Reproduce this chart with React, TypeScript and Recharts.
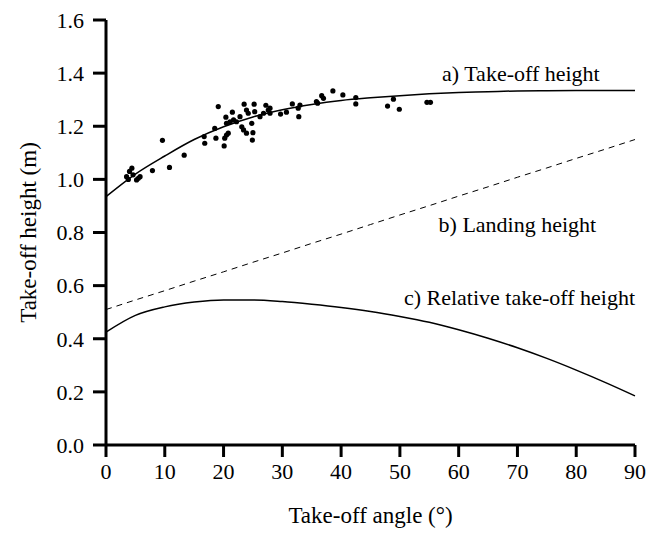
import {
  ComposedChart,
  Line,
  Scatter,
  XAxis,
  YAxis,
  ReferenceDot,
} from 'recharts'

// curve samples (take-off angle in degrees)
const angles = [0, 5, 10, 15, 20, 25, 30, 35, 40, 45, 50, 55, 60, 65, 70, 75, 80, 85, 90]
const takeOffHeight = [0.935, 1.02, 1.088, 1.15, 1.198, 1.235, 1.262, 1.282, 1.297, 1.307, 1.315, 1.322, 1.327, 1.33, 1.333, 1.334, 1.335, 1.335, 1.335]
const landingHeight = [0.51, 0.546, 0.581, 0.617, 0.652, 0.688, 0.723, 0.759, 0.794, 0.83, 0.866, 0.901, 0.937, 0.972, 1.008, 1.043, 1.079, 1.114, 1.15]
const relativeHeight = [0.425, 0.488, 0.52, 0.538, 0.546, 0.546, 0.54, 0.53, 0.518, 0.503, 0.484, 0.462, 0.434, 0.402, 0.366, 0.326, 0.282, 0.235, 0.185]

// measured take-offs
const pointAngle = [3.5, 3.8, 4.0, 4.4, 4.6, 5.2, 5.5, 5.8, 7.9, 9.6, 10.8, 13.3, 16.7, 16.8, 18.5, 18.7, 19.1, 20.1, 20.2, 20.5, 20.8, 20.4, 20.5, 21.1, 21.7, 22.2, 21.5, 22.8, 23.1, 23.4, 23.9, 23.5, 23.9, 24.2, 24.8, 25.0, 24.9, 25.2, 25.3, 26.2, 26.8, 27.2, 27.6, 27.9, 27.9, 29.7, 30.7, 31.7, 32.8, 33.0, 32.7, 35.8, 36.0, 36.7, 37.0, 38.6, 40.3, 42.5, 42.5, 47.9, 48.9, 49.9, 54.6, 55.2]
const pointHeight = [1.01, 1.0, 1.03, 1.042, 1.017, 0.998, 1.004, 1.01, 1.033, 1.147, 1.045, 1.091, 1.161, 1.136, 1.192, 1.155, 1.274, 1.126, 1.155, 1.167, 1.174, 1.234, 1.211, 1.217, 1.224, 1.217, 1.253, 1.236, 1.198, 1.186, 1.174, 1.283, 1.261, 1.249, 1.211, 1.176, 1.148, 1.283, 1.255, 1.236, 1.249, 1.279, 1.261, 1.249, 1.268, 1.246, 1.253, 1.284, 1.236, 1.28, 1.268, 1.293, 1.287, 1.315, 1.305, 1.333, 1.318, 1.308, 1.284, 1.276, 1.302, 1.264, 1.29, 1.29]

const xTicks = [0, 10, 20, 30, 40, 50, 60, 70, 80, 90]
const yTicks = [0, 0.2, 0.4, 0.6, 0.8, 1.0, 1.2, 1.4, 1.6]

const curves = angles.map((x, i) => ({ x, a: takeOffHeight[i], b: landingHeight[i], c: relativeHeight[i] }))
const points = pointAngle.map((x, i) => ({ x, v: pointHeight[i] }))

const serif = "'Liberation Serif', 'DejaVu Serif', 'Times New Roman', Times, serif"
const css = `body{margin:0} .recharts-wrapper text{font-family:${serif}}`
const tickStyle = { fontSize: 22, fill: '#000', fontFamily: serif }
const axisStroke = { stroke: '#000', strokeWidth: 3 }
const note = { position: 'left' as const, offset: 0, fontSize: 22, fill: '#000', fontFamily: serif }

const Dot = (props: any) => <circle cx={props.cx} cy={props.cy} r={2.6} fill="#000" />

export default function App() {
  return (
    <div style={{ width: 649, height: 533, background: '#fff', fontFamily: serif }}>
      <style>{css}</style>
      <ComposedChart width={649} height={533} data={curves} margin={{ top: 20, right: 14, left: 0, bottom: 0 }}>
        <XAxis
          dataKey="x"
          type="number"
          domain={[0, 90]}
          ticks={xTicks}
          height={88}
          tickSize={12}
          tickMargin={6}
          tick={tickStyle}
          axisLine={axisStroke}
          tickLine={axisStroke}
          label={{ value: 'Take-off angle (°)', position: 'insideBottom', offset: 10, fontSize: 23, fill: '#000', fontFamily: serif }}
        />
        <XAxis xAxisId="top" orientation="top" type="number" domain={[0, 90]} height={0} tick={false} tickLine={false} axisLine={axisStroke} />
        <YAxis
          type="number"
          domain={[0, 1.6]}
          ticks={yTicks}
          width={106}
          tickSize={13}
          tickMargin={9}
          tickFormatter={v => v.toFixed(1)}
          tick={tickStyle}
          axisLine={axisStroke}
          tickLine={axisStroke}
          label={{ value: 'Take-off height (m)', angle: -90, position: 'insideLeft', offset: 28, fontSize: 23, fill: '#000', fontFamily: serif, style: { textAnchor: 'middle' } }}
        />
        <YAxis yAxisId="right" orientation="right" type="number" domain={[0, 1.6]} width={0} tick={false} tickLine={false} axisLine={axisStroke} />
        <Line dataKey="a" type="monotone" stroke="#000" strokeWidth={1.5} dot={false} isAnimationActive={false} />
        <Line dataKey="b" type="linear" stroke="#000" strokeWidth={1} strokeDasharray="6 5" dot={false} isAnimationActive={false} />
        <Line dataKey="c" type="monotone" stroke="#000" strokeWidth={1.5} dot={false} isAnimationActive={false} />
        <Scatter data={points} dataKey="v" shape={<Dot />} isAnimationActive={false} />
        <ReferenceDot x={84} y={1.4} r={0} label={{ value: 'a) Take-off height', ...note }} />
        <ReferenceDot x={83.4} y={0.832} r={0} label={{ value: 'b) Landing height', ...note }} />
        <ReferenceDot x={90} y={0.557} r={0} label={{ value: 'c) Relative take-off height', ...note }} />
      </ComposedChart>
    </div>
  )
}
